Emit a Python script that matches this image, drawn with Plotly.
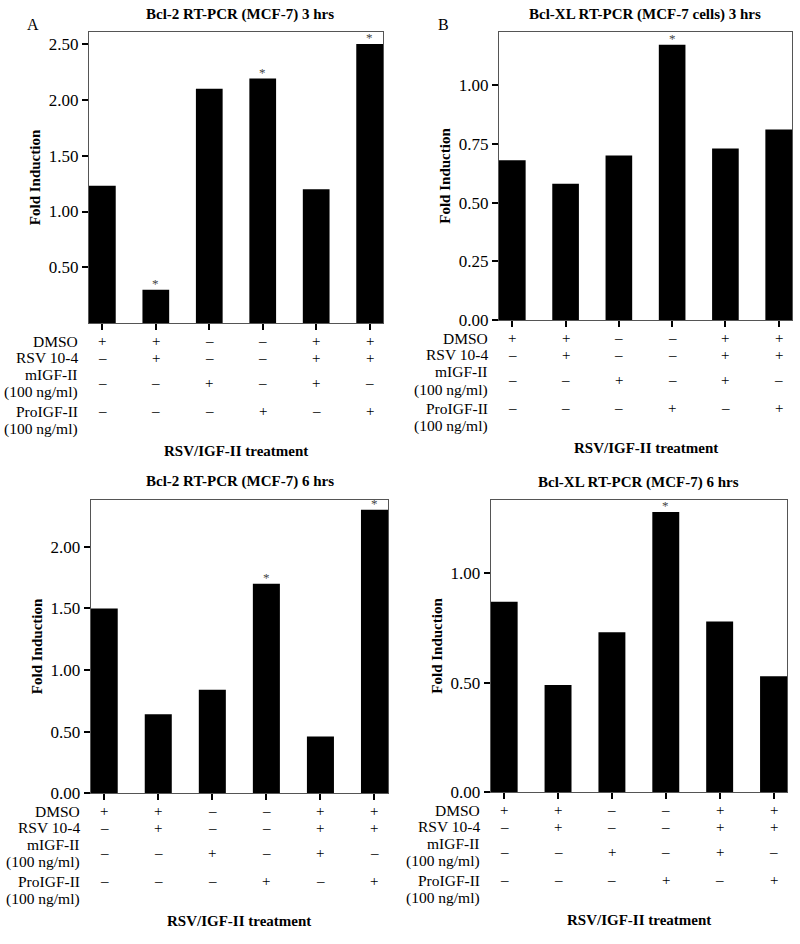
import plotly.graph_objects as go

W, H = 800, 944

# ---- data ----
categories = [0, 1, 2, 3, 4, 5]
bcl2_3h = [1.23, 0.30, 2.10, 2.19, 1.20, 2.50]
bclxl_3h = [0.68, 0.58, 0.70, 1.17, 0.73, 0.81]
bcl2_6h = [1.50, 0.64, 0.84, 1.70, 0.46, 2.30]
bclxl_6h = [0.87, 0.49, 0.73, 1.28, 0.78, 0.53]

sig_bcl2_3h = [False, True, False, True, False, True]
sig_bclxl_3h = [False, False, False, True, False, False]
sig_bcl2_6h = [False, False, False, True, False, True]
sig_bclxl_6h = [False, False, False, True, False, False]

row_dmso = ["+", "+", "–", "–", "+", "+"]
row_rsv = ["–", "+", "–", "–", "+", "+"]
row_migf = ["–", "–", "+", "–", "+", "–"]
row_proigf = ["–", "–", "–", "+", "–", "+"]

titles = ["Bcl-2 RT-PCR (MCF-7) 3 hrs", "Bcl-XL RT-PCR (MCF-7 cells) 3 hrs",
          "Bcl-2 RT-PCR (MCF-7) 6 hrs", "Bcl-XL RT-PCR (MCF-7) 6 hrs"]

FONT = "Liberation Serif"

# panel geometry in pixels: left, right, top, bottom
panels = [
    dict(vals=bcl2_3h, sig=sig_bcl2_3h, box=(89, 383, 32, 326.7), yr=2.61,
         ticks=[0.5, 1.0, 1.5, 2.0, 2.5], title_xy=(240, 15), letter="A"),
    dict(vals=bclxl_3h, sig=sig_bclxl_3h, box=(499, 792, 32, 323.7), yr=1.226,
         ticks=[0, 0.25, 0.5, 0.75, 1.0], title_xy=(645, 15), letter="B"),
    dict(vals=bcl2_6h, sig=sig_bcl2_6h, box=(90.7, 388, 505, 801.7), yr=2.383,
         ticks=[0, 0.5, 1.0, 1.5, 2.0], title_xy=(240, 487), letter=None),
    dict(vals=bclxl_6h, sig=sig_bclxl_6h, box=(490.7, 787, 505, 800.7), yr=1.336,
         ticks=[0, 0.5, 1.0], title_xy=(638, 488), letter=None),
]


def px(x):
    return x / W


def py(y):
    return 1 - y / H


fig = go.Figure()
annotations = []
layout_axes = {}

for i, p in enumerate(panels):
    n = "" if i == 0 else str(i + 1)
    xa, ya = "x" + n, "y" + n
    l, r, t, b = p["box"]
    fig.add_trace(go.Bar(x=categories, y=p["vals"], xaxis=xa, yaxis=ya,
                         marker=dict(color="black", line=dict(width=0)),
                         width=0.5, showlegend=False, hoverinfo="skip"))
    layout_axes["xaxis" + n] = dict(
        domain=[px(l), px(r)], anchor=ya, range=[-0.25, 5.25],
        tickvals=categories, showticklabels=False, ticks="outside", ticklen=6,
        tickwidth=2, tickcolor="black", showline=True, linecolor="#555",
        linewidth=1, mirror=True, showgrid=False, zeroline=False, fixedrange=True)
    layout_axes["yaxis" + n] = dict(
        domain=[py(b), py(t)], anchor=xa, range=[0, p["yr"]],
        tickvals=p["ticks"], ticktext=["%.2f" % v for v in p["ticks"]],
        ticks="outside", ticklen=6, tickwidth=2, tickcolor="black",
        showline=True, linecolor="#555", linewidth=1, mirror=True,
        showgrid=False, zeroline=False, fixedrange=True,
        tickfont=dict(family=FONT, size=17, color="black"),
        title=dict(text="<b>Fold Induction</b>",
                   font=dict(family=FONT, size=15, color="black"), standoff=4))

    # asterisks
    for c, v, s in zip(categories, p["vals"], p["sig"]):
        if s:
            annotations.append(dict(x=c, y=v, xref=xa, yref=ya, text="*",
                                    showarrow=False, yanchor="bottom", yshift=-3,
                                    font=dict(family=FONT, size=13, color="#444")))

    # title
    tx, ty = p["title_xy"]
    annotations.append(dict(x=px(tx), y=py(ty), xref="paper", yref="paper",
                            text="<b>%s</b>" % titles[i], showarrow=False,
                            xanchor="center", yanchor="middle",
                            font=dict(family=FONT, size=15, color="black")))
    if p["letter"]:
        annotations.append(dict(x=px(l - 56), y=py(t - 7), xref="paper", yref="paper",
                                text=p["letter"], showarrow=False,
                                xanchor="center", yanchor="middle",
                                font=dict(family=FONT, size=16, color="black")))

    # treatment table
    lab_x = px(l - 9)
    label_rows = [("DMSO", 18), ("RSV 10-4", 35), ("mIGF-II", 52),
                  ("(100 ng/ml)", 70), ("ProIGF-II", 89), ("(100 ng/ml)", 107)]
    for txt, off in label_rows:
        annotations.append(dict(x=lab_x, y=py(b + off), xref="paper", yref="paper",
                                text=txt, showarrow=False, xanchor="right",
                                yanchor="middle",
                                font=dict(family=FONT, size=15.5, color="black")))
    sign_rows = [(row_dmso, 18), (row_rsv, 35), (row_migf, 60), (row_proigf, 89)]
    for row, off in sign_rows:
        for c, s in zip(categories, row):
            annotations.append(dict(x=c, y=py(b + off), xref=xa, yref="paper",
                                    text=s, showarrow=False, xanchor="center",
                                    yanchor="middle",
                                    font=dict(family=FONT, size=15, color="black")))
    annotations.append(dict(x=px((l + r) / 2), y=py(b + 129), xref="paper",
                            yref="paper", text="<b>RSV/IGF-II treatment</b>",
                            showarrow=False, xanchor="center", yanchor="middle",
                            font=dict(family=FONT, size=15, color="black")))

fig.update_layout(
    width=W, height=H, margin=dict(l=0, r=0, t=0, b=0),
    paper_bgcolor="white", plot_bgcolor="white",
    bargap=0.5, annotations=annotations,
    font=dict(family=FONT, color="black"),
    **layout_axes)

fig.write_html("out.html", config={"displayModeBar": False},
               post_script="document.body.style.margin='0';document.body.style.overflow='hidden';")
